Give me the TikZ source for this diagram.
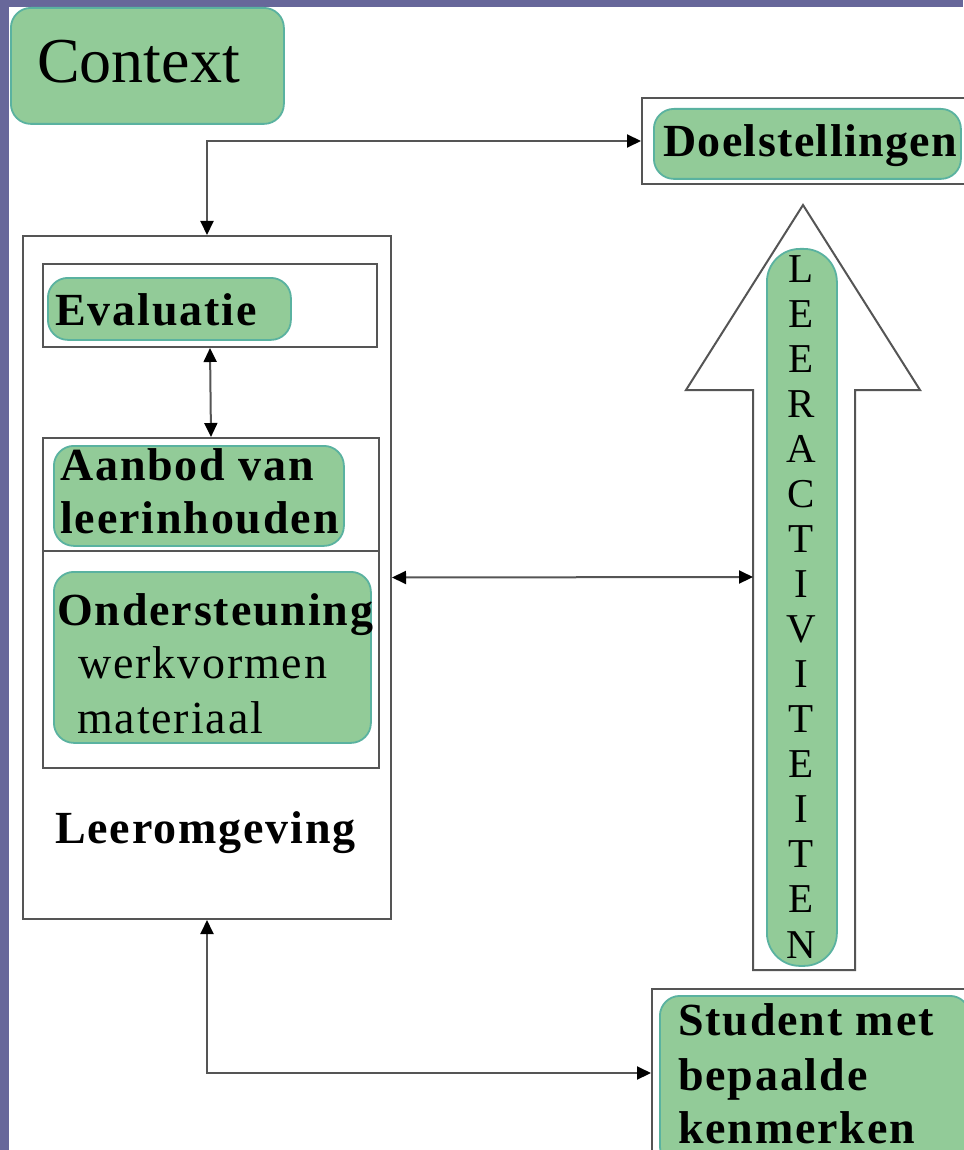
\documentclass[tikz,border=0pt]{standalone}
\usepackage{fontspec}
\setmainfont{Liberation Serif}
\newfontfamily\spaced[LetterSpace=4]{Liberation Serif}
\newfontfamily\spacedb[LetterSpace=3]{Liberation Serif}
\usetikzlibrary{arrows.meta}
\definecolor{purp}{HTML}{67679A}
\definecolor{grn}{HTML}{92CB98}
\definecolor{tealb}{HTML}{5AB2A0}
\definecolor{lineg}{HTML}{555555}
\tikzset{
  gbox/.style={draw=tealb, fill=grn, line width=1.8pt, rounded corners=20pt, inner sep=0pt, anchor=north west},
  frame/.style={draw=lineg, line width=2pt, inner sep=0pt, anchor=north west},
  conn/.style={draw=lineg, line width=2pt, {Triangle[length=14pt,width=13pt,color=black]}-{Triangle[length=14pt,width=13pt,color=black]}},
  btxt/.style={anchor=base west, inner sep=0pt, font=\spaced\fontsize{46}{54}\selectfont\bfseries},
  rtxt/.style={anchor=base west, inner sep=0pt, font=\spaced\fontsize{46}{54}\selectfont},
  ltr/.style={anchor=base, inner sep=0pt, font=\fontsize{41}{45}\selectfont}
}
\begin{document}
\begin{tikzpicture}[x=1pt,y=-1pt]
\useasboundingbox (0,0) rectangle (963,1150);
\fill[purp] (0,0) rectangle (963,1150);
\fill[white] (9,7) rectangle (963,1150);

% Context
\node[gbox, minimum width=273pt, minimum height=116pt] (ctxbox) at (10,7) {};
\node[anchor=base west, inner sep=0pt, font=\fontsize{64}{70}\selectfont] (ctx) at (37,83) {Context};

% Doelstellingen
\node[frame, minimum width=340pt, minimum height=86pt] (doel) at (641,97) {};
\node[gbox, minimum width=307pt, minimum height=70pt] (doelbox) at (653,108) {};
\node[anchor=base west, inner sep=0pt, font=\spacedb\fontsize{46}{54}\selectfont\bfseries] (doeltxt) at (663,157) {Doelstellingen};

% Leeromgeving
\node[frame, minimum width=368pt, minimum height=683pt] (leer) at (22,235) {};
\node[frame, minimum width=334pt, minimum height=83pt] (evalf) at (42,263) {};
\node[gbox, minimum width=243pt, minimum height=62pt] (evalbox) at (47,277) {};
\node[btxt] (evaltxt) at (55,325) {Evaluatie};

\node[frame, minimum width=336pt, minimum height=113pt] (aanf) at (42,437) {};
\node[gbox, minimum width=290pt, minimum height=100pt] (aanbox) at (53,445) {};
\node[btxt] (aan1) at (60,480) {Aanbod van};
\node[btxt] (aan2) at (60,533) {leerinhouden};

\node[frame, minimum width=336pt, minimum height=217pt] (ondf) at (42,550) {};
\node[gbox, minimum width=317pt, minimum height=171pt] (ondbox) at (53,571) {};
\node[btxt] (ond1) at (57,625) {Ondersteuning};
\node[rtxt] (ond2) at (78,678) {werkvormen};
\node[rtxt] (ond3) at (77,733) {materiaal};

\node[btxt] (leertxt) at (55,843) {Leeromgeving};

% big arrow
\draw[draw=lineg, line width=2pt, fill=white, line join=miter]
  (803,205) -- (920,390) -- (855,390) -- (855,970) -- (753,970) -- (753,390) -- (686,390) -- cycle;
\coordinate (shaftW) at (753,577);
\node[draw=tealb, fill=grn, line width=1.8pt, rounded corners=33pt, inner sep=0pt, anchor=north west,
      minimum width=70pt, minimum height=717pt] (pill) at (766,248) {};
\foreach \L [count=\i from 0] in {L,E,E,R,A,C,T,I,V,I,T,E,I,T,E,N}{
  \node[ltr] (l\i) at (801,282+45.07*\i) {\L};
}

% Student
\node[frame, minimum width=330pt, minimum height=168pt] (stud) at (651,988) {};
\node[gbox, minimum width=310pt, minimum height=170pt] (studbox) at (659,995) {};
\node[btxt] (st1) at (678,1035) {Student met};
\node[btxt] (st2) at (678,1090) {bepaalde};
\node[btxt, text depth=0pt] (st3) at (678,1143) {kenmerken};

% connectors
\draw[conn] (leer.north) |- (doel.west);
\draw[conn] (evalf.south) -- (aanf.north);
\draw[conn] (leer.east) -- (shaftW);
\draw[conn] (leer.south) |- (stud.west);
\end{tikzpicture}
\end{document}
